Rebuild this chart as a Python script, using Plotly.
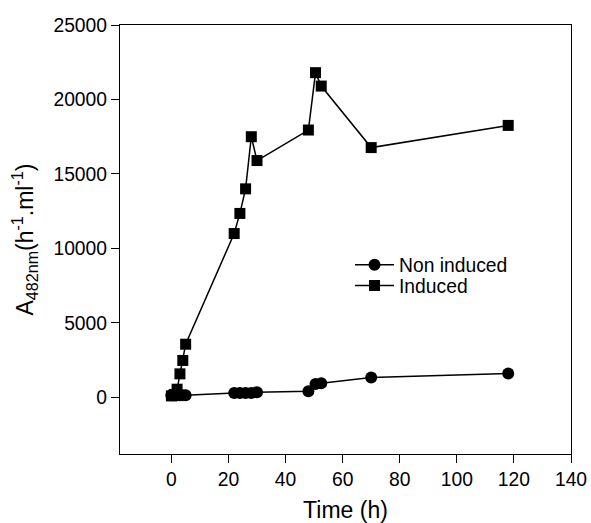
import plotly.graph_objects as go

time_non_induced = [0, 1, 2, 3, 4, 5, 22, 24, 26, 28, 30, 48, 50.5, 52.5, 70, 118]
non_induced = [150, 150, 150, 150, 150, 150, 300, 300, 300, 300, 350, 420, 900, 950, 1330, 1610]

time_induced = [0, 1, 2, 3, 4, 5, 22, 24, 26, 28, 30, 48, 50.5, 52.5, 70, 118]
induced = [100, 200, 550, 1580, 2480, 3570, 11000, 12350, 14000, 17500, 15900, 17950, 21800, 20900, 16770, 18260]

x_ticks = [0, 20, 40, 60, 80, 100, 120, 140]
y_ticks = [0, 5000, 10000, 15000, 20000, 25000]

font_family = "Liberation Sans, Arial, Helvetica, sans-serif"
FS = 19.3

fig = go.Figure()
fig.add_trace(go.Scatter(
    x=time_non_induced, y=non_induced, name="Non induced",
    mode="lines+markers", legend="legend",
    line=dict(color="black", width=1.5),
    marker=dict(symbol="circle", size=12, color="black"),
))
fig.add_trace(go.Scatter(
    x=time_induced, y=induced, name="Induced",
    mode="lines+markers", legend="legend2",
    line=dict(color="black", width=1.5),
    marker=dict(symbol="square", size=11, color="black"),
))

leg_common = dict(x=0.51, xanchor="left", yanchor="middle",
                  bgcolor="rgba(0,0,0,0)", font=dict(size=FS), itemwidth=39)

fig.update_layout(
    width=599, height=530, autosize=False,
    margin=dict(l=120, r=20, t=25, b=64),
    paper_bgcolor="white", plot_bgcolor="white",
    font=dict(family=font_family, size=FS, color="black"),
    showlegend=True,
    legend=dict(y=0.440, **leg_common),
    legend2=dict(y=0.392, **leg_common),
)
fig.update_xaxes(
    range=[-18, 140], tickvals=x_ticks, ticks="outside", ticklen=8,
    tickwidth=1.2, tickcolor="black",
    showline=True, linecolor="black", linewidth=1.2, mirror=True,
    showgrid=False, zeroline=False,
    title=dict(text="Time (h)", standoff=12),
)
fig.update_yaxes(
    range=[-3800, 25000], tickvals=y_ticks, tickformat="d", ticks="outside", ticklen=8,
    tickwidth=1.2, tickcolor="black",
    showline=True, linecolor="black", linewidth=1.2, mirror=True,
    showgrid=False, zeroline=False,
    title=dict(text="A<sub>482nm</sub>(h<sup>-1</sup>.ml<sup>-1</sup>)", standoff=13),
)

fig.write_html(
    "out.html",
    config={"responsive": False, "displayModeBar": False},
    post_script="document.body.style.margin='0';document.body.style.overflow='hidden';",
)
